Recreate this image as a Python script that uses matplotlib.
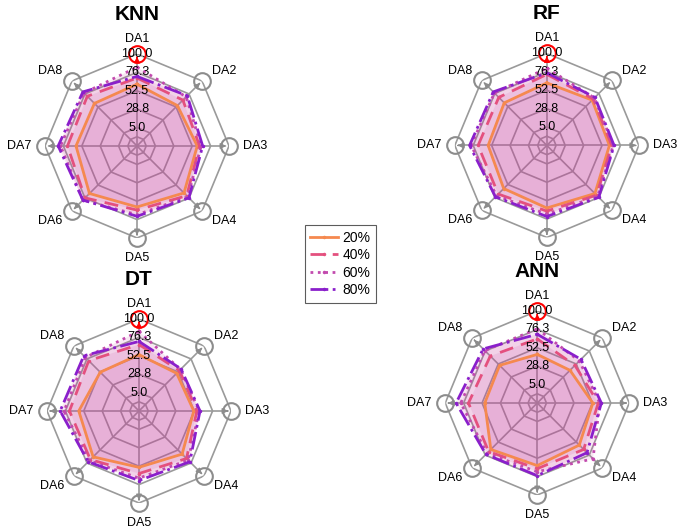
import numpy as np
import matplotlib
matplotlib.use('Agg')
import matplotlib.pyplot as plt

plt.rcParams['font.family'] = ['Liberation Sans', 'DejaVu Sans']

# axis and series names
axis_labels = ['DA1', 'DA2', 'DA3', 'DA4', 'DA5', 'DA6', 'DA7', 'DA8']
series_labels = ['20%', '40%', '60%', '80%']
radial_ticks = [5.0, 28.75, 52.5, 76.25, 100.0]
radial_tick_labels = ['5.0', '28.8', '52.5', '76.3', '100.0']

# values, rows = 20%, 40%, 60%, 80%
knn_vals = [[61, 55, 59, 67, 60, 68, 60, 59],
            [69, 65, 62, 72, 64, 76, 71, 72],
            [83, 71, 64, 74, 70, 80, 80, 78],
            [71, 73, 66, 76, 72, 80, 83, 80]]
rf_vals = [[62, 64, 62, 69, 62, 60, 57, 59],
           [73, 66, 65, 72, 66, 70, 70, 69],
           [81, 68, 67, 74, 70, 73, 79, 77],
           [75, 69, 68, 76, 73, 75, 81, 79]]
dt_vals = [[54, 50, 52, 60, 54, 65, 59, 52],
           [67, 55, 56, 68, 62, 70, 71, 73],
           [84, 57, 59, 71, 68, 72, 78, 79],
           [71, 58, 60, 74, 71, 74, 83, 82]]
ann_vals = [[44, 41, 53, 58, 62, 66, 49, 50],
            [64, 50, 60, 66, 66, 70, 70, 67],
            [77, 58, 62, 83, 70, 73, 80, 77],
            [70, 61, 64, 72, 75, 75, 86, 80]]

colors = ['#F5894F', '#E4507E', '#C24AAE', '#8A1FCB']
styles = ['-', (0, (5, 3)), ':', '-.']
fill_color = '#C8409E'
grid_color = '#9a9a9a'
r_min, r_max = -18.75, 100.0


def draw_radar(fig, rect, title, vals):
    ax = fig.add_axes(rect, projection='polar')
    ax.set_theta_offset(np.pi / 2)
    ax.set_theta_direction(-1)
    ax.set_ylim(r_min, r_max)
    ax.grid(False)
    ax.spines['polar'].set_visible(False)
    ax.set_yticks([])

    n = len(axis_labels)
    theta = np.arange(n) * 2 * np.pi / n
    theta_c = np.append(theta, theta[0])

    # octagon grid
    for rv in [-6.875] + radial_ticks:
        ax.plot(theta_c, [rv] * (n + 1), color=grid_color, lw=1.2, zorder=1)
    for t in theta:
        ax.plot([t, t], [r_min, r_max - 6], color=grid_color, lw=1.2, zorder=1)

    # series
    for i, row in enumerate(vals):
        r = np.append(row, row[0])
        ax.fill(theta_c, r, color=fill_color, alpha=0.12, lw=0, zorder=2)
        ax.plot(theta_c, r, color=colors[i], ls=styles[i], lw=2.0,
                marker='.', ms=3, label=series_labels[i], zorder=3)

    # arrow heads and circles at axis ends
    for j, t in enumerate(theta):
        c = 'red' if j == 0 else '#8c8c8c'
        ax.annotate('', xy=(t, r_max), xytext=(t, r_max - 8),
                    arrowprops=dict(arrowstyle='-|>', color=c, lw=1.0,
                                    mutation_scale=8), zorder=4)
        ax.plot(t, r_max, 'o', mfc='none', mec=c, mew=1.5, ms=12, zorder=4,
                clip_on=False)

    for rv, lab in zip(radial_ticks, radial_tick_labels):
        ax.text(0, rv, lab, ha='center', va='center', fontsize=9, zorder=5)

    # category labels around the octagon
    ax.set_xticks([])
    for t, lab in zip(theta, axis_labels):
        s = np.sin(t)
        ha = 'center' if abs(s) < 0.1 else ('left' if s > 0 else 'right')
        cs = np.cos(t)
        va = 'bottom' if cs > 0.9 else ('top' if cs < -0.9 else 'center')
        rr = 112 if cs > 0.9 else 118
        ax.text(t, rr, lab, ha=ha, va=va, fontsize=9, clip_on=False)

    ax.text(0.5, 1.215, title, transform=ax.transAxes, ha='center',
            va='center', fontsize=15, fontweight='bold')
    return ax


fig = plt.figure(figsize=(6.85, 5.3), dpi=100)
w, h = 184 / 685, 184 / 530
ax1 = draw_radar(fig, [0.0657, 0.551, w, h], 'KNN', knn_vals)
draw_radar(fig, [0.664, 0.552, w, h], 'RF', rf_vals)
draw_radar(fig, [0.0686, 0.051, w, h], 'DT', dt_vals)
draw_radar(fig, [0.650, 0.066, w, h], 'ANN', ann_vals)

handles, labels = ax1.get_legend_handles_labels()
leg = fig.legend(handles, labels, loc='center', bbox_to_anchor=(0.497, 0.502),
                 fontsize=10, frameon=True, fancybox=False, edgecolor='#333333',
                 handlelength=2.0, handletextpad=0.3, borderpad=0.4,
                 labelspacing=0.25, numpoints=1)
leg.get_frame().set_linewidth(0.8)

fig.savefig('out.png', dpi=100)
